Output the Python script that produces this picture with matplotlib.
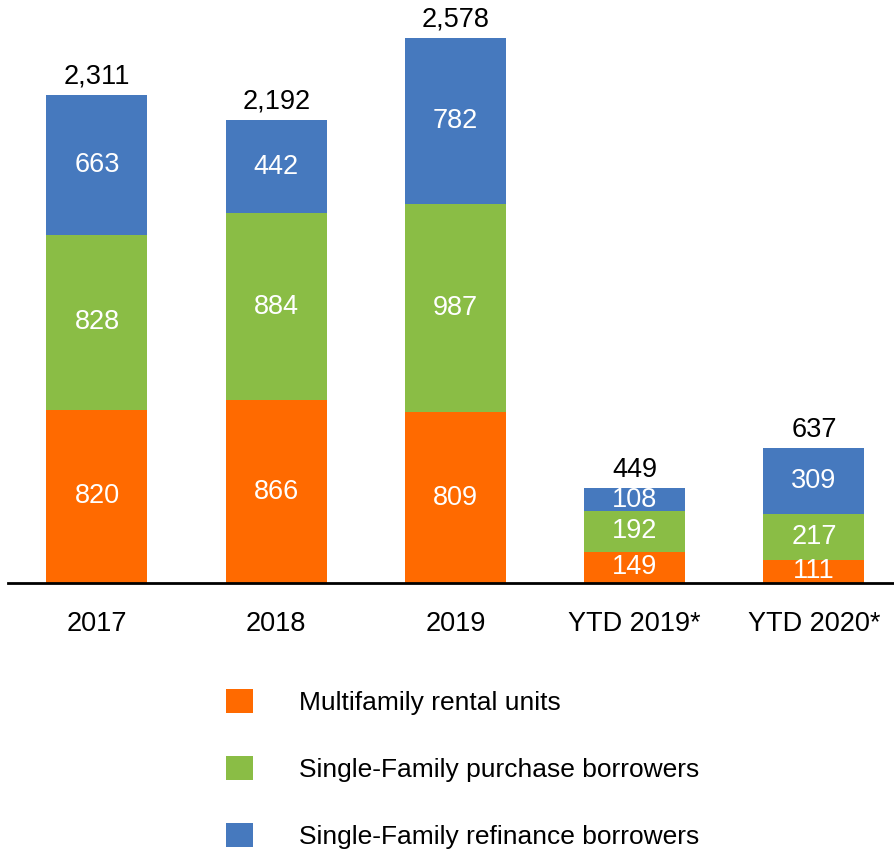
import matplotlib
matplotlib.use('Agg')
import matplotlib.pyplot as plt
import numpy as np
from matplotlib.patches import Patch

plt.rcParams['font.family'] = ['Liberation Sans', 'DejaVu Sans']

# data
categories = ['2017', '2018', '2019', 'YTD 2019*', 'YTD 2020*']
multifamily = [820, 866, 809, 149, 111]
sf_purchase = [828, 884, 987, 192, 217]
sf_refinance = [663, 442, 782, 108, 309]
series_names = ['Multifamily rental units',
                'Single-Family purchase borrowers',
                'Single-Family refinance borrowers']
colors = ['#FF6A00', '#8ABD45', '#4679BE']

fs = 19.5

fig = plt.figure(figsize=(8.95, 8.52), dpi=100)
ax = fig.add_axes([0.0089, 0.3157, 0.9911, 0.6843])

x = np.arange(len(categories))
width = 0.5635
bottom = np.zeros(len(categories))
for vals, col in zip([multifamily, sf_purchase, sf_refinance], colors):
	bars = ax.bar(x, vals, width, bottom=bottom, color=col)
	ax.bar_label(bars, labels=[str(v) for v in vals], label_type='center',
				 color='white', fontsize=fs)
	bottom = bottom + np.array(vals)

# totals on top
for xi, tot in zip(x, bottom):
	ax.annotate(f'{int(tot):,}', (xi, tot), xytext=(0, 4), textcoords='offset points',
				ha='center', va='bottom', fontsize=fs, color='black')

ax.set_xlim(-0.4965, 4.452)
ax.set_ylim(0, 2760)
ax.set_xticks(x)
ax.set_xticklabels(categories, fontsize=fs)
ax.tick_params(axis='x', length=0, pad=20)
ax.set_yticks([])
for s in ['top', 'right', 'left']:
	ax.spines[s].set_visible(False)
ax.spines['bottom'].set_linewidth(2)
ax.spines['bottom'].set_color('black')

# legend
handles = [Patch(facecolor=c, edgecolor='none') for c in colors]
fig.legend(handles, series_names, loc='upper left', bbox_to_anchor=(0.2525, 0.191),
		   frameon=False, fontsize=19, handlelength=1.03, handleheight=1.03,
		   handletextpad=1.75, labelspacing=1.55, borderpad=0, borderaxespad=0)

fig.savefig('out.png', dpi=100)
